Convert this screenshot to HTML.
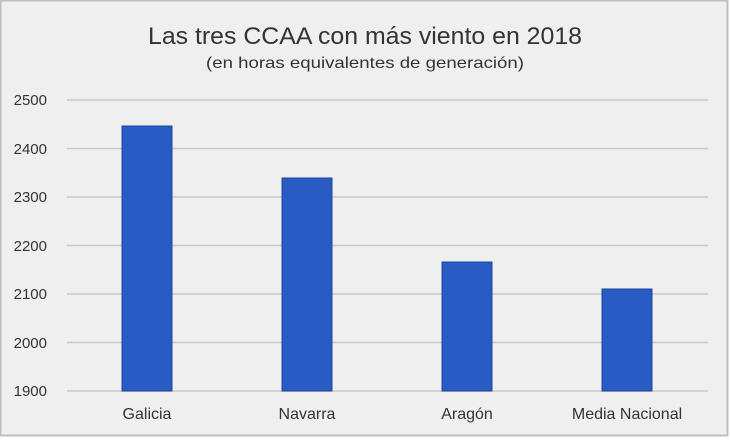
<!DOCTYPE html>
<html><head><style>
body{margin:0;width:730px;height:438px;background:#fff;overflow:hidden}
</style></head><body>
<svg width="730" height="438" xmlns="http://www.w3.org/2000/svg" font-family="Liberation Sans, DejaVu Sans, sans-serif">
<rect x="0.5" y="0.5" width="727" height="435" fill="#efefef" stroke="#bdbdbd" stroke-width="2"/>
<text x="365" y="44" text-anchor="middle" font-size="24" fill="#333" textLength="434" lengthAdjust="spacingAndGlyphs">Las tres CCAA con más viento en 2018</text>
<text x="365" y="68" text-anchor="middle" font-size="16" fill="#333" textLength="318" lengthAdjust="spacingAndGlyphs">(en horas equivalentes de generación)</text>
<g stroke="#c8c8c8" stroke-width="1.5">
<line x1="67" x2="708" y1="100" y2="100"/>
<line x1="67" x2="708" y1="148.5" y2="148.5"/>
<line x1="67" x2="708" y1="197" y2="197"/>
<line x1="67" x2="708" y1="245.5" y2="245.5"/>
<line x1="67" x2="708" y1="294" y2="294"/>
<line x1="67" x2="708" y1="342.5" y2="342.5"/>
<line x1="67" x2="708" y1="391" y2="391"/>
</g>
<g font-size="15" fill="#333" text-anchor="end">
<text x="47" y="105">2500</text>
<text x="47" y="154">2400</text>
<text x="47" y="202">2300</text>
<text x="47" y="251">2200</text>
<text x="47" y="299">2100</text>
<text x="47" y="348">2000</text>
<text x="47" y="396">1900</text>
</g>
<g fill="#2a5bc4" stroke="#1f4699" stroke-width="1">
<rect x="122" y="126" width="50" height="265"/>
<rect x="282" y="178" width="50" height="213"/>
<rect x="442" y="262" width="50" height="129"/>
<rect x="602" y="289" width="50" height="102"/>
</g>
<g font-size="16" fill="#333" text-anchor="middle">
<text x="147" y="419">Galicia</text>
<text x="307" y="419">Navarra</text>
<text x="467" y="419">Aragón</text>
<text x="627" y="419">Media Nacional</text>
</g>
</svg>
</body></html>
